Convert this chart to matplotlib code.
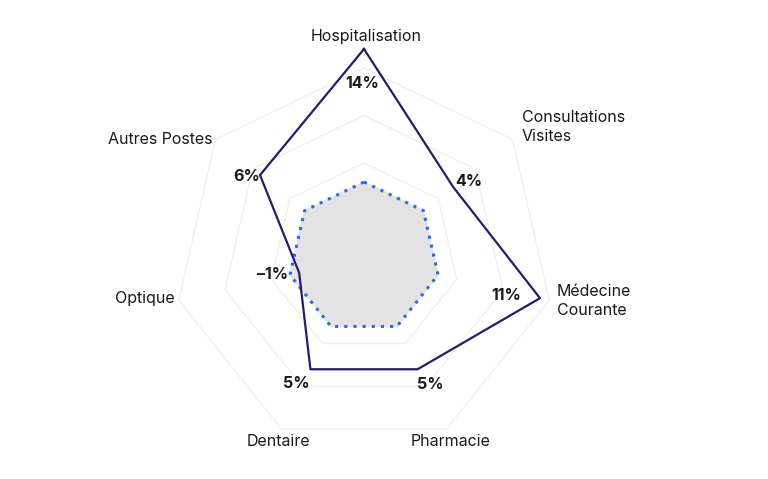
import numpy as np
import matplotlib.pyplot as plt

categories = ['Hospitalisation', 'Consultations\nVisites', 'Médecine\nCourante', 'Pharmacie',
              'Dentaire', 'Optique', 'Autres Postes']
values = [14, 4, 11, 5, 5, -1, 6]
value_labels = ['14%', '4%', '11%', '5%', '5%', '–1%', '6%']
zero_line = [0, 0, 0, 0, 0, 0, 0]
grid_levels = [-3, 2, 7, 12]

plt.rcParams['font.family'] = ['Inter', 'DejaVu Sans']
n = len(categories)
ang = np.arange(n) * 2 * np.pi / n
ang_c = np.append(ang, ang[0])

W, H = 768, 479
fig = plt.figure(figsize=(7.68, 4.79), dpi=100)
ax = fig.add_axes([145.5 / W, 2.5 / H, 437 / W, 437 / H], polar=True)
ax.set_theta_zero_location('N')
ax.set_theta_direction(-1)
ax.set_ylim(-8, 15)
ax.axis('off')

for g in grid_levels:
    ax.plot(ang_c, [g] * (n + 1), color='#f0f0f0', lw=1, zorder=1)

z = np.append(zero_line, zero_line[0])
ax.fill(ang_c, z, color='#e3e3e3', zorder=2)
ax.plot(ang_c, z, color='#2a6ae0', lw=2.2, ls=(0, (1, 2)), zorder=3)

v = np.append(values, values[0])
ax.plot(ang_c, v, color='#2a1a6e', lw=1.6, zorder=4)

# category label positions in pixels (x, y from top, ha)
label_pos = [(366, 36, 'center'), (522, 127, 'left'), (557, 301, 'left'), (451, 441, 'center'),
             (278, 441, 'center'), (175, 299, 'right'), (212, 139, 'right')]
for name, (x, y, ha) in zip(categories, label_pos):
    fig.text(x / W, 1 - y / H, name, ha=ha, va='center', fontsize=11.5,
             color='#1a1a1a', linespacing=1.3)

# value label offsets in pixels from each point (dx right, dy down)
offs = [(-2, 35), (16, -5), (-34, -3), (13, 15), (-14, 14), (-27, 2), (-13, 1)]
for a, val, lab, (dx, dy) in zip(ang, values, value_labels, offs):
    ax.annotate(lab, (a, val), xytext=(dx * 0.72, -dy * 0.72), textcoords='offset points',
                ha='center', va='center', fontsize=11.5, fontweight='bold',
                color='#1a1a1a', zorder=5)

fig.savefig('out.png', dpi=100)
